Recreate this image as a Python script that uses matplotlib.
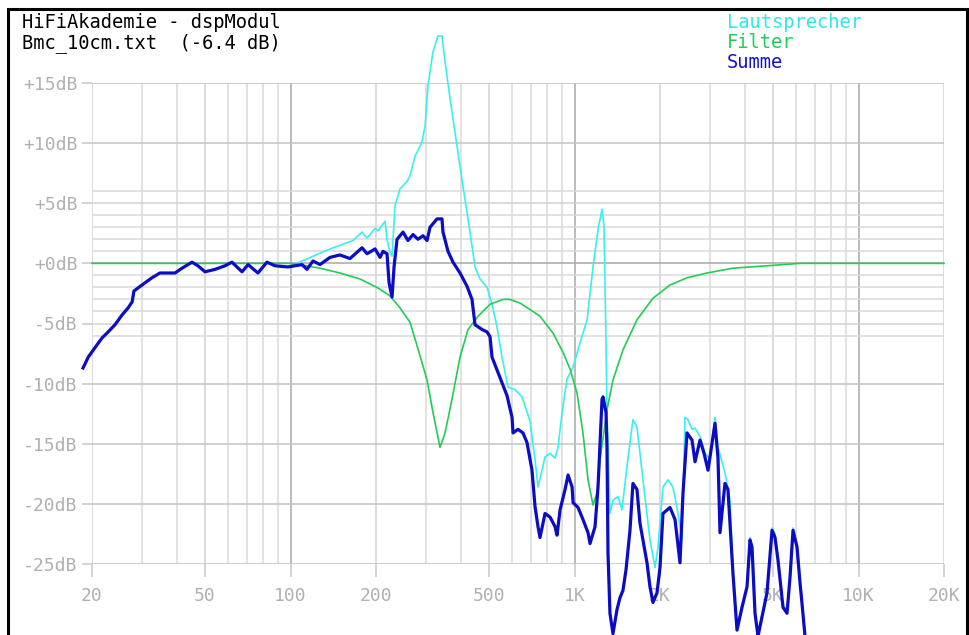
import matplotlib.pyplot as plt
from matplotlib.patches import Rectangle

# frequency (Hz), level (dB)
summe = [(18.6, -8.7), (19.4, -7.8), (20.5, -7.0), (21.7, -6.2), (22.8, -5.7), (24.1, -5.1),
         (25.5, -4.3), (26.8, -3.7), (27.7, -3.2), (28.1, -2.3), (30.0, -1.8), (32.5, -1.2),
         (34.7, -0.8), (39.2, -0.8), (41.5, -0.4), (45.0, 0.1), (47.2, -0.2), (50.0, -0.7),
         (54.2, -0.5), (58.8, -0.2), (62.2, 0.1), (67.5, -0.7), (70.9, -0.1), (76.8, -0.8),
         (82.6, 0.1), (88.2, -0.2), (98.0, -0.3), (109.8, -0.1), (114.3, -0.5), (120, 0.2),
         (127, -0.1), (137.8, 0.5), (149.3, 0.7), (162, 0.4), (178.6, 1.3), (186, 0.8),
         (198.4, 1.2), (206.7, 0.5), (211.7, 1.0), (218.7, 0.8), (222.3, -1.6), (227.8, -2.8),
         (231.5, -0.3), (237.2, 2.0), (249, 2.6), (259.2, 1.9), (270, 2.4), (281.1, 2.0),
         (292.8, 2.3), (302.5, 1.9), (309.9, 3.0), (328, 3.7), (341.5, 3.7), (344.3, 2.6),
         (358.6, 1.0), (373.4, 0.1), (395.2, -0.8), (418.3, -1.9), (435.6, -3.0), (446.4, -5.1),
         (472.5, -5.5), (492, -5.7), (504.1, -6.1), (512.4, -7.8), (546.7, -9.5), (578.6, -11.0),
         (602.6, -12.8), (607.5, -14.1), (632.5, -13.8), (658.6, -14.1), (680.3, -14.9),
         (708.4, -17.2), (725.9, -20.2), (743.8, -21.9), (756, -22.8), (787.3, -20.8),
         (820, -21.1), (854, -21.9), (868, -22.6), (889.4, -20.5), (926.3, -18.8), (949.2, -17.6),
         (980.5, -18.6), (988.5, -19.9), (1029, -20.3), (1071, -21.3), (1116, -22.4),
         (1134, -23.3), (1181, -21.9), (1210, -18.6), (1250, -11.3), (1260, -11.1), (1291, -12.4),
         (1301, -15.2), (1312, -24.1), (1333, -29.1), (1366, -30.8), (1411, -28.8), (1446, -27.8),
         (1481, -27.2), (1518, -25.5), (1568, -22.2), (1606, -18.3), (1659, -18.8), (1700, -21.6),
         (1800, -24.9), (1844, -26.9), (1889, -28.2), (1952, -27.4), (2000, -25.3), (2049, -20.8),
         (2169, -20.3), (2259, -21.3), (2352, -24.9), (2410, -19.1), (2490, -14.1), (2593, -14.7),
         (2657, -16.5), (2767, -14.7), (2858, -15.8), (2952, -17.2), (3124, -13.3), (3201, -16.2),
         (3253, -22.4), (3387, -18.3), (3470, -18.8), (3527, -21.6), (3614, -25.8), (3734, -30.5),
         (3889, -28.6), (4050, -26.9), (4149, -23.0), (4217, -23.6), (4321, -29.1), (4427, -31.0),
         (4762, -27.4), (4960, -22.2), (5082, -22.8), (5207, -24.7), (5422, -28.6), (5601, -29.1),
         (5739, -26.1), (5880, -22.2), (6075, -23.6), (6225, -26.6), (6325, -28.3), (6481, -31.0)]

lautsprecher = [(18.6, -8.7), (19.4, -7.8), (20.5, -7.0), (21.7, -6.2), (22.8, -5.7), (24.1, -5.1),
                (25.5, -4.3), (26.8, -3.7), (27.7, -3.2), (28.1, -2.3), (30.0, -1.8), (32.5, -1.2),
                (34.7, -0.8), (39.2, -0.8), (41.5, -0.4), (45.0, 0.1), (47.2, -0.2), (50.0, -0.7),
                (54.2, -0.5), (58.8, -0.2), (62.2, 0.1), (67.5, -0.7), (70.9, -0.1), (76.8, -0.8),
                (82.6, 0.1), (88.2, -0.2), (98.0, -0.3), (109.8, 0.2), (120, 0.6), (137.8, 1.2),
                (153, 1.6), (166, 1.9), (178.6, 2.6), (186, 2.1), (198.4, 2.9), (203.3, 2.7),
                (215.2, 3.5), (218.7, 2.0), (224.1, 0.9), (227.8, 0.6), (233.4, 4.8), (243, 6.2),
                (257.1, 6.8), (263.5, 7.3), (274.4, 8.9), (290.4, 10.1), (297.6, 11.4), (304.9, 14.8),
                (317.5, 17.6), (330.6, 18.9), (341.5, 18.9), (350, 16.8), (364.5, 13.7), (385.7, 9.8),
                (404.9, 6.4), (428.6, 2.6), (446.4, -0.3), (464.9, -1.3), (492, -2.0), (512.4, -3.4),
                (533.6, -5.3), (555.6, -7.8), (583.3, -10.3), (617.4, -10.5), (653.3, -11.1),
                (697, -13.1), (725.9, -16.3), (743.8, -18.6), (768.4, -17.2), (787.3, -16.1),
                (820, -15.8), (854, -16.2), (875.1, -15.3), (904, -12.4), (941.5, -9.6), (988.5, -8.6),
                (1046, -6.6), (1107, -4.7), (1162, -0.3), (1210, 2.8), (1250, 4.5), (1270, 3.1),
                (1291, -6.6), (1301, -12.4), (1333, -20.8), (1366, -19.7), (1422, -19.4), (1469, -20.5),
                (1530, -16.9), (1606, -13.0), (1659, -13.6), (1742, -18.0), (1844, -23.0), (1920, -25.3),
                (1968, -23.6), (2049, -18.6), (2134, -18.0), (2222, -18.6), (2314, -20.8), (2390, -23.0),
                (2450, -12.8), (2510, -13.0), (2593, -13.8), (2657, -13.7), (2767, -14.4), (2881, -15.8),
                (3000, -16.3), (3124, -12.8), (3201, -15.3), (3387, -17.4), (3527, -19.7), (3614, -25.5),
                (3734, -30.3), (3889, -28.4), (4050, -26.7), (4149, -22.8), (4217, -23.4), (4321, -28.9),
                (4427, -30.8), (4762, -27.2), (4960, -22.0), (5082, -22.5), (5207, -24.5), (5422, -28.4),
                (5601, -28.9), (5739, -25.9), (5880, -22.0), (6075, -23.4), (6225, -26.4), (6325, -28.0),
                (6481, -30.8)]

filt = [(20, 0.0), (100, 0.0), (108, -0.1), (127, -0.4), (149.3, -0.8), (175.7, -1.3), (201.6, -2.0),
        (224.1, -2.7), (243, -3.7), (263.5, -4.9), (281.1, -7.1), (302.5, -9.7), (317.5, -12.4),
        (336, -15.3), (350, -14.1), (370.4, -11.3), (395.2, -7.8), (421.7, -5.5), (457.4, -4.4),
        (504.1, -3.4), (560.2, -3.0), (592.9, -3.0), (642.8, -3.3), (714.2, -4.0), (756, -4.4),
        (840.2, -5.8), (911.4, -7.4), (964.7, -8.8), (1021, -10.8), (1071, -14.1), (1116, -18.0),
        (1162, -20.1), (1200, -19.1), (1230, -16.3), (1301, -12.2), (1366, -9.7), (1481, -7.2),
        (1659, -4.7), (1889, -2.9), (2169, -1.8), (2490, -1.2), (2928, -0.8), (3614, -0.4),
        (4762, -0.2), (6225, 0.0), (20000, 0.0)]

x_major = [20, 50, 100, 200, 500, 1000, 2000, 5000, 10000, 20000]
x_labels = ['20', '50', '100', '200', '500', '1K', '2K', '5K', '10K', '20K']
x_minor = [30, 40, 60, 70, 80, 90, 300, 400, 600, 700, 800, 900,
           3000, 4000, 6000, 7000, 8000, 9000]
y_major = [15, 10, 5, 0, -5, -10, -15, -20, -25]
y_labels = ['+15dB', '+10dB', '+5dB', '+0dB', '-5dB', '-10dB', '-15dB', '-20dB', '-25dB']
y_minor = [6, 4, 3, 2, 1, -1, -2, -3, -4, -6]

mono = 'DejaVu Sans Mono'
W, H = 970, 635

fig = plt.figure(figsize=(W / 100, H / 100), dpi=100)
ax = fig.add_axes([92 / W, 71 / H, 852 / W, 481 / H])
ax.set_xscale('log')
ax.set_xlim(20, 20000)
ax.set_ylim(-25, 15)
for s in ax.spines.values():
    s.set_visible(False)

# grid
for f in x_minor:
    ax.axvline(f, color='#dadada', lw=1.1, zorder=1)
for f in x_major:
    c = '#a8a8a8' if f in (100, 1000, 10000) else '#d2d2d2'
    ax.axvline(f, color=c, lw=1.1, zorder=1)
for d in y_minor:
    ax.axhline(d, color='#dadada', lw=1.1, zorder=1)
for d in y_major:
    c = '#a8a8a8' if d == 0 else ('#c4c4c4' if abs(d) >= 10 else '#d2d2d2')
    ax.axhline(d, color=c, lw=1.1, zorder=1)

ax.set_xticks(x_major)
ax.set_xticklabels(x_labels)
ax.set_xticks([], minor=True)
ax.set_yticks(y_major)
ax.set_yticklabels(y_labels)
ax.tick_params(axis='x', length=9.5, width=1.1, color='#c8c8c8', pad=7,
               labelsize=13, labelcolor='#b0b0b0')
ax.tick_params(axis='y', length=7.5, width=1.1, color='#c8c8c8', pad=3,
               labelsize=13, labelcolor='#b0b0b0')
for lab in ax.get_xticklabels() + ax.get_yticklabels():
    lab.set_family(mono)

# curves
ax.plot([p[0] for p in lautsprecher], [p[1] for p in lautsprecher],
        color='#38f0f0', lw=1.2, zorder=3, clip_on=False)
ax.plot([p[0] for p in filt], [p[1] for p in filt],
        color='#22cc55', lw=1.2, zorder=4, clip_on=False)
ax.plot([p[0] for p in summe], [p[1] for p in summe],
        color='#0c0cc4', lw=2.3, zorder=5, clip_on=False)

# header texts
fig.text(22 / W, 1 - 22 / H, 'HiFiAkademie - dspModul', family=mono, size=13.5,
         va='center', ha='left', color='black')
fig.text(22 / W, 1 - 43 / H, 'Bmc_10cm.txt  (-6.4 dB)', family=mono, size=13.5,
         va='center', ha='left', color='black')
fig.text(727 / W, 1 - 22 / H, 'Lautsprecher', family=mono, size=13.5,
         va='center', ha='left', color='#30e8e8')
fig.text(727 / W, 1 - 42 / H, 'Filter', family=mono, size=13.5,
         va='center', ha='left', color='#22cc55')
fig.text(727 / W, 1 - 62 / H, 'Summe', family=mono, size=13.5,
         va='center', ha='left', color='#1414c8')

# outer frame
fig.add_artist(Rectangle((8 / W, -0.05), (967 - 8) / W, 1 - 9 / H + 0.05,
                         transform=fig.transFigure, fill=False, ec='black', lw=2.2))

plt.savefig('out.png', dpi=100)
